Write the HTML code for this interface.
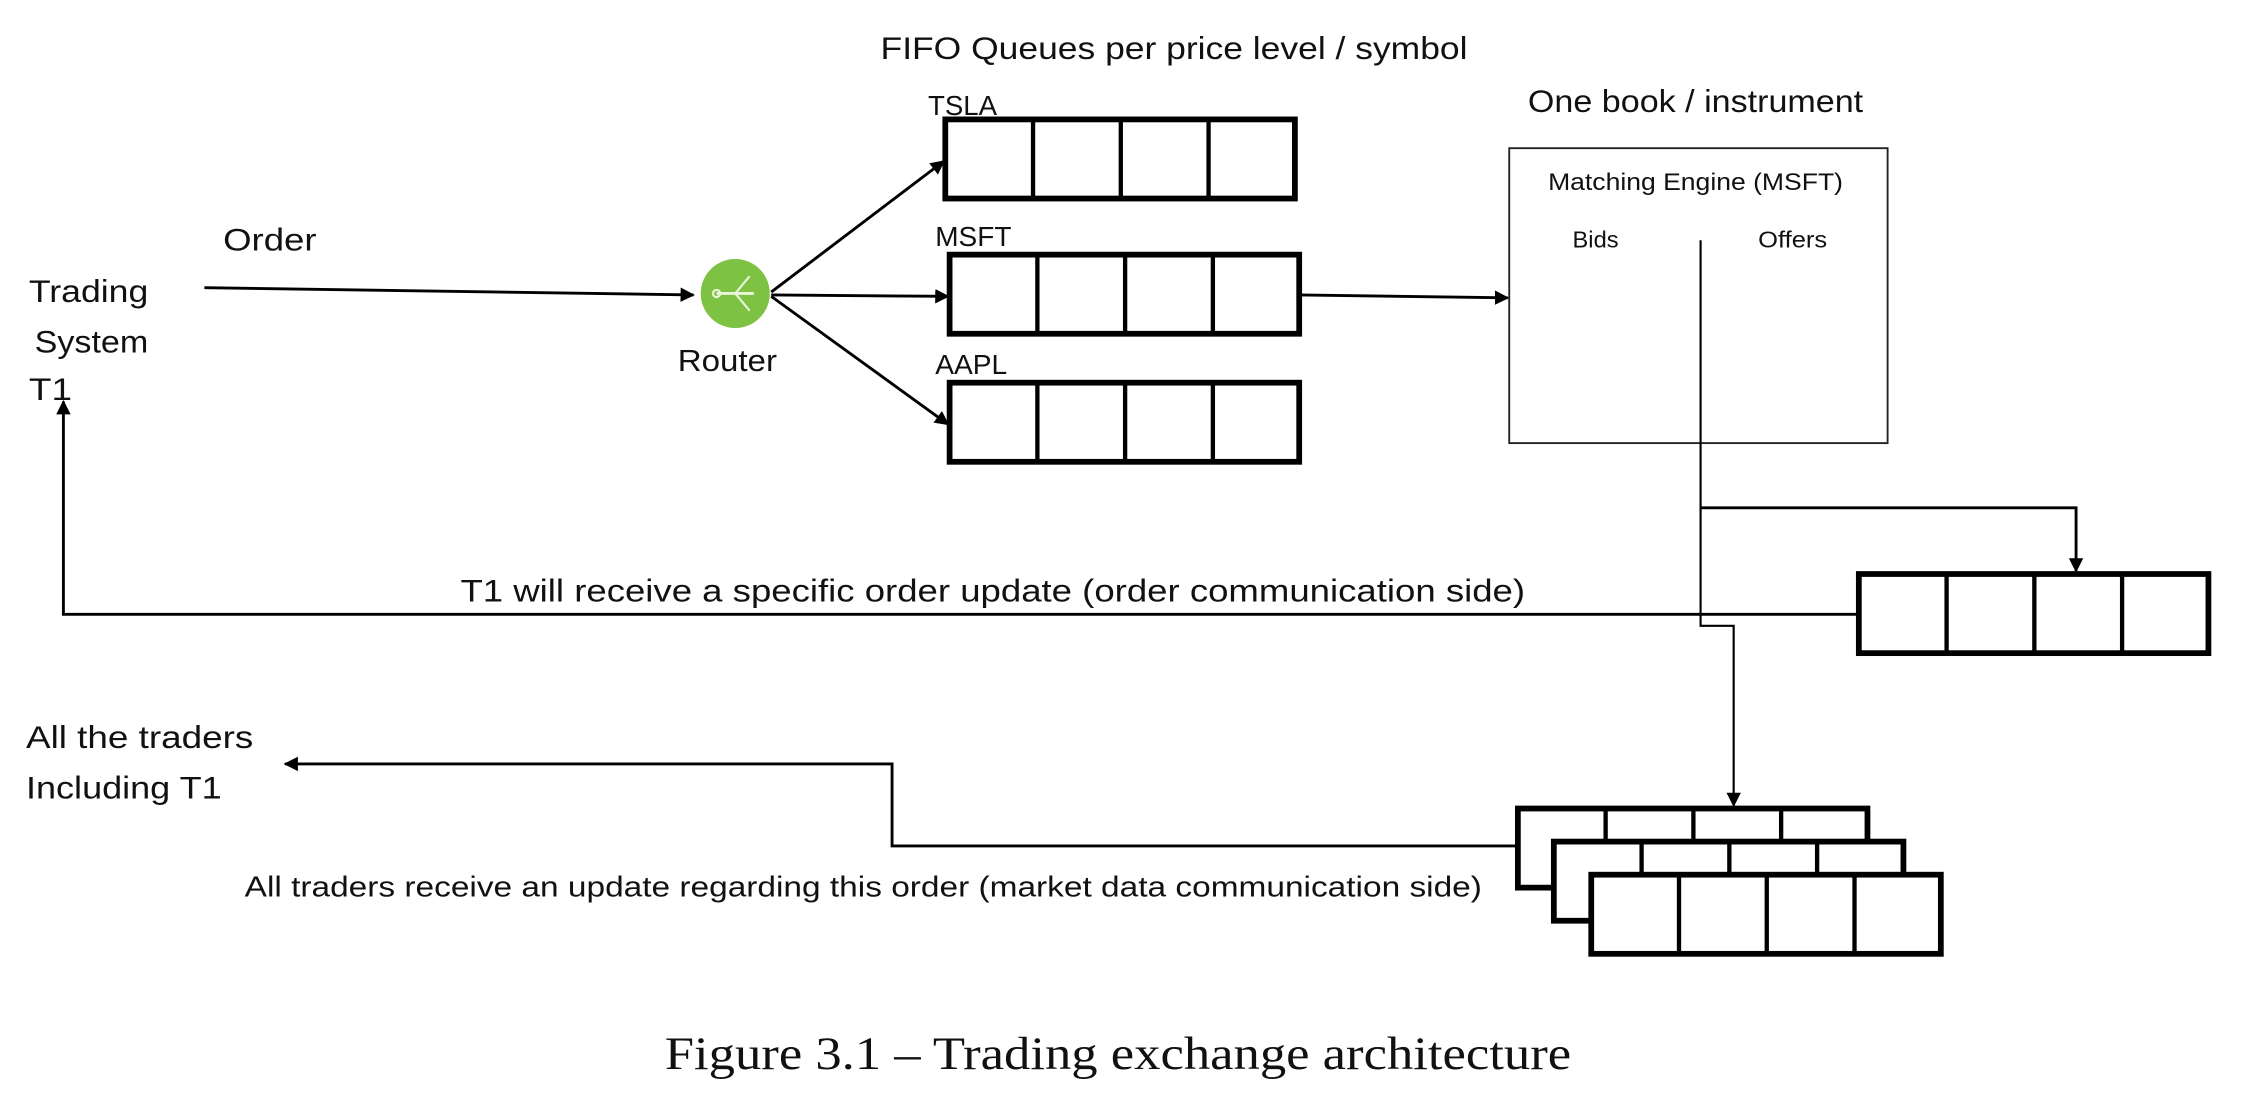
<!DOCTYPE html>
<html><head><meta charset="utf-8"><style>
html,body{margin:0;padding:0;background:#fff;}
svg{display:block;}
text{font-family:"Liberation Sans Narrow","Liberation Sans",sans-serif;fill:#111;}
</style></head><body>
<svg width="2256" height="1102" viewBox="0 0 1568 766" xmlns="http://www.w3.org/2000/svg">
<defs>
<marker id="ah" markerWidth="10" markerHeight="10" refX="9" refY="5" orient="auto" markerUnits="userSpaceOnUse">
<path d="M0,0 L10,5 L0,10 z" fill="#000"/>
</marker>
<g id="q">
<rect x="0" y="0" width="243" height="55" fill="#fff" stroke="#000" stroke-width="4"/>
<line x1="61" y1="0" x2="61" y2="55" stroke="#000" stroke-width="3"/>
<line x1="122" y1="0" x2="122" y2="55" stroke="#000" stroke-width="3"/>
<line x1="183" y1="0" x2="183" y2="55" stroke="#000" stroke-width="3"/>
</g>
</defs>
<g lengthAdjust="spacingAndGlyphs">
<text x="612" y="41" font-size="22" textLength="408" lengthAdjust="spacingAndGlyphs">FIFO Queues per price level / symbol</text>
<text x="645" y="80" font-size="19" textLength="48" lengthAdjust="spacingAndGlyphs">TSLA</text>
<text x="650" y="171" font-size="19" textLength="53" lengthAdjust="spacingAndGlyphs">MSFT</text>
<text x="650" y="260" font-size="19" textLength="50" lengthAdjust="spacingAndGlyphs">AAPL</text>
</g>
<use href="#q" x="657" y="83"/>
<use href="#q" x="660" y="177"/>
<use href="#q" x="660" y="266"/>

<text x="1062" y="78" font-size="22" textLength="233" lengthAdjust="spacingAndGlyphs">One book / instrument</text>
<rect x="1049" y="103" width="263" height="205" fill="#fff" stroke="#222" stroke-width="1.3"/>
<text x="1076" y="132" font-size="17" textLength="205" lengthAdjust="spacingAndGlyphs">Matching Engine (MSFT)</text>
<text x="1093" y="172" font-size="16" textLength="32" lengthAdjust="spacingAndGlyphs">Bids</text>
<text x="1222" y="172" font-size="16" textLength="48" lengthAdjust="spacingAndGlyphs">Offers</text>

<text x="20" y="210" font-size="22" textLength="83" lengthAdjust="spacingAndGlyphs">Trading</text>
<text x="24" y="245" font-size="22" textLength="79" lengthAdjust="spacingAndGlyphs">System</text>
<text x="20" y="278" font-size="22" textLength="30" lengthAdjust="spacingAndGlyphs">T1</text>
<text x="155" y="174" font-size="22" textLength="65" lengthAdjust="spacingAndGlyphs">Order</text>

<line x1="142" y1="200" x2="482" y2="205" stroke="#000" stroke-width="2" marker-end="url(#ah)"/>
<circle cx="511" cy="204" r="24" fill="#7dc242"/>
<line x1="498" y1="204" x2="524" y2="204" stroke="#e8f5dc" stroke-width="2"/>
<line x1="511" y1="204" x2="521" y2="192" stroke="#e8f5dc" stroke-width="1.5"/>
<line x1="511" y1="204" x2="521" y2="216" stroke="#e8f5dc" stroke-width="1.5"/>
<circle cx="498" cy="204" r="2.5" fill="none" stroke="#e8f5dc" stroke-width="1.5"/>
<text x="471" y="258" font-size="21" textLength="69" lengthAdjust="spacingAndGlyphs">Router</text>
<line x1="536" y1="203" x2="656" y2="112" stroke="#000" stroke-width="2" marker-end="url(#ah)"/>
<line x1="536" y1="205" x2="659" y2="206" stroke="#000" stroke-width="2" marker-end="url(#ah)"/>
<line x1="536" y1="206" x2="659" y2="295" stroke="#000" stroke-width="2" marker-end="url(#ah)"/>
<line x1="903" y1="205" x2="1048" y2="207" stroke="#000" stroke-width="2" marker-end="url(#ah)"/>

<polyline points="1182,167 1182,435 1205,435 1205,560" fill="none" stroke="#000" stroke-width="1.5" marker-end="url(#ah)"/>
<polyline points="1182,353 1443,353 1443,397" fill="none" stroke="#000" stroke-width="2" marker-end="url(#ah)"/>
<use href="#q" x="1292" y="399"/>
<polyline points="1292,427 44,427 44,279" fill="none" stroke="#000" stroke-width="2" marker-end="url(#ah)"/>
<text x="320" y="418" font-size="22" textLength="740" lengthAdjust="spacingAndGlyphs">T1 will receive a specific order update (order communication side)</text>

<use href="#q" x="1055" y="562"/>
<use href="#q" x="1080" y="585"/>
<use href="#q" x="1106" y="608"/>
<polyline points="1055,588 620,588 620,531 198,531" fill="none" stroke="#000" stroke-width="2" marker-end="url(#ah)"/>
<text x="18" y="520" font-size="22" textLength="158" lengthAdjust="spacingAndGlyphs">All the traders</text>
<text x="18" y="555" font-size="22" textLength="136" lengthAdjust="spacingAndGlyphs">Including T1</text>
<text x="170" y="623" font-size="20" textLength="860" lengthAdjust="spacingAndGlyphs">All traders receive an update regarding this order (market data communication side)</text>

<text x="462" y="743" font-size="32" textLength="630" lengthAdjust="spacingAndGlyphs" style="font-family:'Liberation Serif',serif">Figure 3.1 – Trading exchange architecture</text>
</svg>
</body></html>
